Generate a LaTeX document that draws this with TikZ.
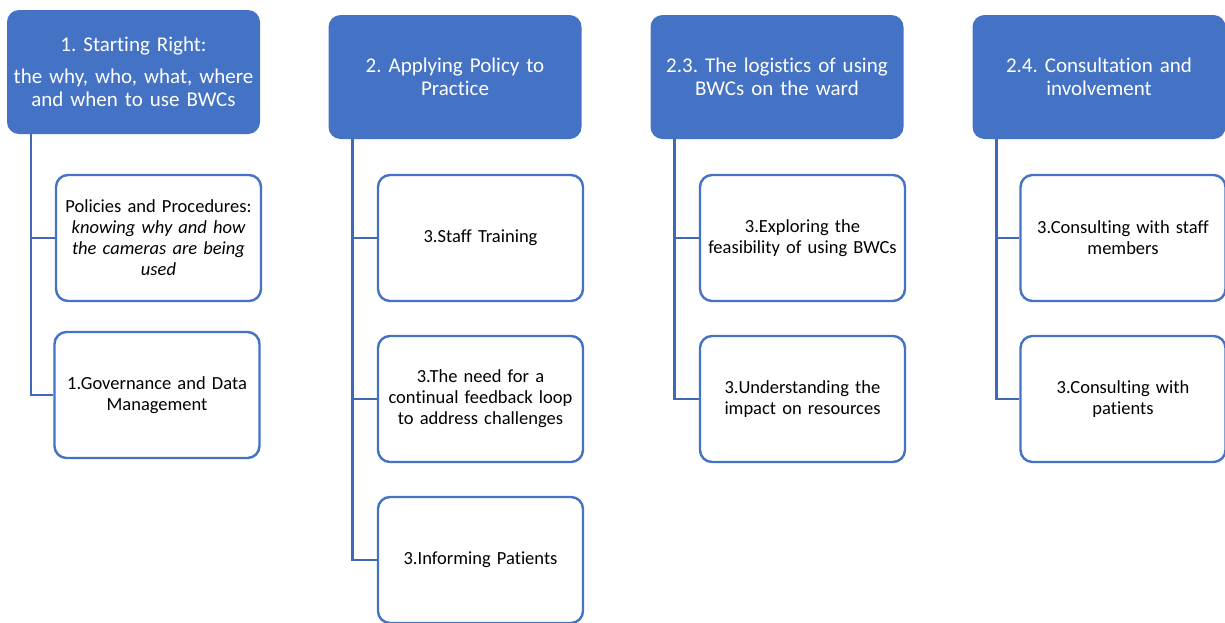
\documentclass[tikz,border=0pt]{standalone}
\usepackage{fontspec}
\setmainfont{Carlito}[Ligatures=NoCommon]
\usetikzlibrary{calc}
\definecolor{hblue}{HTML}{4472C4}
\definecolor{lblue}{HTML}{3F68B5}
\frenchspacing
\begin{document}
\begin{tikzpicture}[x=1pt,y=-1pt,
  head/.style={draw=none,fill=hblue,rounded corners=12pt,text=white,
    minimum width=253pt,minimum height=124pt,text width=251pt,align=center,
    font=\fontsize{21}{23.5}\selectfont,inner sep=0pt},
  leaf/.style={draw=hblue,line width=2.4pt,fill=white,rounded corners=12pt,
    minimum width=205pt,minimum height=126pt,text width=203pt,align=center,
    font=\fontsize{18.5}{21}\selectfont,inner sep=0pt},
  link/.style={draw=lblue,line width=2.6pt}]
\useasboundingbox (0,0) rectangle (1225,622);
\fill[white] (0,0) rectangle (1225,622);
% headers
\node[head] (h1) at (133.5,72) {1. Starting Right:\\[8pt]the why, who, what, where\\and when to use BWCs};
\node[head] (h2) at (455,77) {2. Applying Policy to\\Practice};
\node[head] (h3) at (777,77) {2.3. The logistics of using\\BWCs on the ward};
\node[head] (h4) at (1099,77) {2.4. Consultation and\\involvement};
% leaves
\node[leaf] (c1a) at (158.5,238) {Policies and Procedures:\\\itshape knowing why and how\\the cameras are being\\used};
\node[leaf] (c1b) at (157,395) {1.Governance and Data\\Management};
\node[leaf] (c2a) at (480.5,238) {3.Staff Training};
\node[leaf] (c2b) at (480.5,399) {3.The need for a\\continual feedback loop\\to address challenges};
\node[leaf] (c2c) at (480.5,560) {3.Informing Patients};
\node[leaf] (c3a) at (802.5,238) {3.Exploring the\\feasibility of using BWCs};
\node[leaf] (c3b) at (802.5,399) {3.Understanding the\\impact on resources};
\node[leaf] (c4a) at (1123,238) {3.Consulting with staff\\members};
\node[leaf] (c4b) at (1123,399) {3.Consulting with\\patients};
% trunks
\coordinate (t1) at ($(h1.south west)+(24,0)$);
\coordinate (t2) at ($(h2.south west)+(24,0)$);
\coordinate (t3) at ($(h3.south west)+(24,0)$);
\coordinate (t4) at ($(h4.south west)+(24,0)$);
\draw[link] (t1) |- (c1b.west);
\draw[link] (t1 |- c1a.west) -- (c1a.west);
\draw[link] (t2) |- (c2c.west);
\draw[link] (t2 |- c2a.west) -- (c2a.west);
\draw[link] (t2 |- c2b.west) -- (c2b.west);
\draw[link] (t3) |- (c3b.west);
\draw[link] (t3 |- c3a.west) -- (c3a.west);
\draw[link] (t4) |- (c4b.west);
\draw[link] (t4 |- c4a.west) -- (c4a.west);
\end{tikzpicture}
\end{document}
